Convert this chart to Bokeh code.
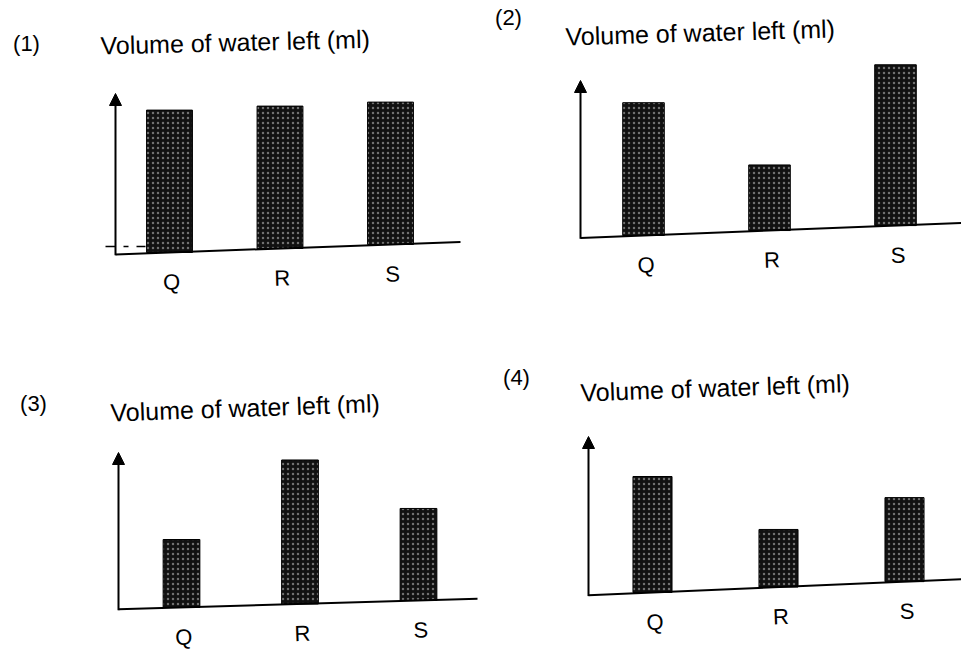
from bokeh.plotting import figure
from bokeh.models import ColumnDataSource, Range1d, Arrow, NormalHead
from bokeh.layouts import column, row
from bokeh.embed import file_html
from bokeh.resources import INLINE
from bokeh.core.properties import value

# ---- data ----
categories = ["Q", "R", "S"]
panel_numbers = ["(1)", "(2)", "(3)", "(4)"]
chart_title = "Volume of water left (ml)"
volume_1 = [8.9, 8.9, 8.9]
volume_2 = [8.3, 4.1, 10.05]
volume_3 = [4.25, 9.0, 5.75]
volume_4 = [7.25, 3.6, 5.25]

# ---- layout / style ----
U = 16.0  # px per volume unit
FONT = value("Liberation Sans")

panels = [
    dict(vals=volume_1, fx=0, fy=0, w=481, h=326, cx=169, s=110.5, by=252, tilt=0.25, bw=0.415,
         axx=115, tip=93, bend=460, tx=100, ty=45, nx=26, ny=43, ang=0.025, dash=True),
    dict(vals=volume_2, fx=481, fy=0, w=480, h=326, cx=643, s=126, by=235, tilt=0.31, bw=0.33,
         axx=580, tip=80, bend=962, tx=565, ty=36, nx=508, ny=17, ang=0.03, dash=False),
    dict(vals=volume_3, fx=0, fy=326, w=481, h=325, cx=181, s=118.5, by=607, tilt=0.22, bw=0.31,
         axx=118, tip=452, bend=477, tx=110, ty=412, nx=33, ny=403, ang=0.035, dash=False),
    dict(vals=volume_4, fx=481, fy=326, w=480, h=325, cx=652, s=126, by=592, tilt=0.34, bw=0.31,
         axx=588, tip=436, bend=962, tx=580, ty=392, nx=516, ny=377, ang=0.035, dash=False),
]


def make_panel(idx, cfg):
    X = lambda px: 1 + (px - cfg["cx"]) / cfg["s"]
    Y = lambda py: (cfg["by"] - py) / U
    tilt = cfg["tilt"]
    W, H = cfg["w"], cfg["h"]
    p = figure(width=W, height=H,
               x_range=Range1d(X(cfg["fx"]), X(cfg["fx"] + W)),
               y_range=Range1d(Y(cfg["fy"] + H), Y(cfg["fy"])),
               x_axis_location=None, y_axis_location=None,
               toolbar_location=None, output_backend="svg",
               min_border=0, outline_line_color=None)
    p.grid.visible = False
    p.background_fill_color = "white"
    p.border_fill_color = "white"

    xs = [i + 1 for i in range(len(categories))]
    bottoms = [tilt * (x - 1) for x in xs]
    tops = [b + v for b, v in zip(bottoms, cfg["vals"])]
    src = ColumnDataSource(dict(x=xs, bottom=bottoms, top=tops, cat=categories,
                                ly=[b - 1.85 for b in bottoms],
                                lx=[x + 0.02 for x in xs]))
    p.vbar(x="x", width=cfg["bw"], bottom="bottom", top="top", source=src,
           fill_color="#111111", line_color="#000000", line_width=1,
           hatch_pattern=".", hatch_color="white", hatch_alpha=0.4,
           hatch_scale=5, hatch_weight=1)

    # baseline (x axis)
    ax = X(cfg["axx"])
    xe = X(cfg["bend"])
    p.line([ax, xe], [tilt * (ax - 1), tilt * (xe - 1)], line_color="black", line_width=2)
    # y axis with arrow
    p.add_layout(Arrow(end=NormalHead(size=12, fill_color="black", line_color="black"),
                       x_start=ax, y_start=tilt * (ax - 1) - 0.05,
                       x_end=ax, y_end=Y(cfg["tip"]),
                       line_color="black", line_width=2))
    if cfg["dash"]:
        p.line([X(105), X(146)], [Y(246), Y(246)], line_color="black",
               line_width=1.5, line_dash="10 8 5 8 9 40")

    # category labels
    p.text(x="lx", y="ly", text="cat", source=src, text_font=FONT,
           text_font_size=value("22px"), text_align="center",
           text_baseline="middle", angle=cfg["ang"], text_color="black")
    # panel number and title
    p.text(x=[X(cfg["nx"])], y=[Y(cfg["ny"])], text=[panel_numbers[idx]],
           text_font=FONT, text_font_size=value("22px"), text_align="center",
           text_baseline="middle", text_color="black")
    p.text(x=[X(cfg["tx"])], y=[Y(cfg["ty"])], text=[chart_title],
           text_font=FONT, text_font_size=value("25px"), text_align="left",
           text_baseline="middle", angle=cfg["ang"], text_color="black")
    return p


figs = [make_panel(i, c) for i, c in enumerate(panels)]
layout = column(row(figs[0], figs[1], spacing=0), row(figs[2], figs[3], spacing=0), spacing=0)

open("out.html", "w").write(file_html(layout, INLINE))
